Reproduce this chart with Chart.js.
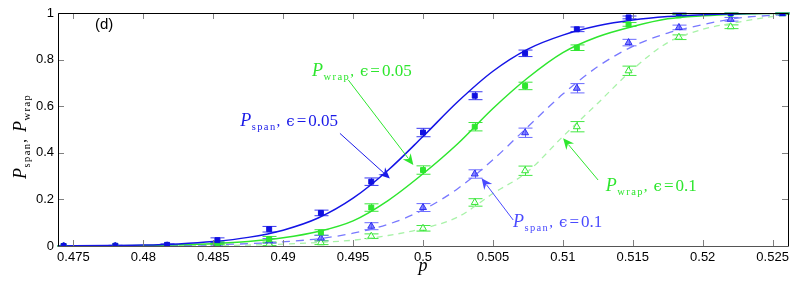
<!DOCTYPE html>
<html>
<head>
<meta charset="utf-8">
<script src="https://cdn.jsdelivr.net/npm/chart.js@4"></script>
<style>
html,body{margin:0;padding:0;background:#fff;}
#c{display:block;}
</style>
</head>
<body>
<canvas id="c" width="796" height="283" style="width:796px;height:283px"></canvas>
<script>
// ---------- data ----------
const pValues = [0.4743,0.4780,0.4817,0.4853,0.4890,0.4927,0.4963,0.5000,0.5037,0.5073,0.5110,0.5147,0.5183,0.5220,0.5257];
const spanEps005 = [0.000,0.001,0.005,0.025,0.072,0.142,0.276,0.487,0.645,0.827,0.930,0.981,0.998,1.000,1.000];
const wrapEps005 = [0.000,0.000,0.003,0.012,0.029,0.058,0.165,0.326,0.512,0.687,0.851,0.951,0.990,0.997,1.000];
const spanEps01  = [0.000,0.000,0.001,0.006,0.022,0.034,0.085,0.165,0.309,0.486,0.677,0.873,0.938,0.973,0.997];
const wrapEps01  = [0.000,0.000,0.000,0.002,0.008,0.014,0.042,0.076,0.187,0.323,0.512,0.752,0.896,0.941,0.997];
const spanEps005Err = [0.002,0.002,0.004,0.010,0.012,0.012,0.016,0.018,0.017,0.014,0.010,0.006,0.004,0.002,0.001];
const wrapEps005Err = [0.002,0.002,0.003,0.006,0.012,0.012,0.016,0.018,0.018,0.016,0.012,0.008,0.005,0.003,0.002];
const spanEps01Err  = [0.001,0.001,0.002,0.005,0.010,0.012,0.015,0.017,0.018,0.020,0.020,0.014,0.010,0.008,0.003];
const wrapEps01Err  = [0.001,0.001,0.002,0.004,0.006,0.008,0.010,0.012,0.016,0.020,0.022,0.020,0.010,0.008,0.003];

// fitted curves
const pCurve = [0.4739,0.4775,0.4800,0.4825,0.4850,0.4875,0.4900,0.4925,0.4950,0.4975,0.5000,0.5025,0.5050,0.5075,0.5100,0.5125,0.5150,0.5175,0.5200,0.5225,0.5250,0.5261];
const fitSpan005 = [0.000,0.002,0.004,0.009,0.019,0.037,0.068,0.120,0.205,0.325,0.470,0.620,0.750,0.845,0.905,0.945,0.970,0.985,0.993,0.997,0.999,0.999];
const fitWrap005 = [0.000,0.001,0.002,0.005,0.010,0.019,0.035,0.062,0.108,0.195,0.310,0.440,0.590,0.722,0.830,0.898,0.942,0.975,0.988,0.995,0.998,0.999];
const fitSpan01  = [0.000,0.000,0.001,0.002,0.005,0.010,0.018,0.031,0.055,0.093,0.155,0.247,0.370,0.512,0.652,0.770,0.857,0.914,0.950,0.978,0.990,0.993];
const fitWrap01  = [0.000,0.000,0.000,0.001,0.002,0.004,0.008,0.015,0.025,0.045,0.075,0.125,0.225,0.320,0.470,0.613,0.758,0.873,0.930,0.960,0.985,0.990];

const xTicks = [0.475,0.48,0.485,0.49,0.495,0.5,0.505,0.51,0.515,0.52,0.525];
const xTickLabels = ['0.475','0.48','0.485','0.49','0.495','0.5','0.505','0.51','0.515','0.52','0.525'];
const yTicks = [0,0.2,0.4,0.6,0.8,1];
const yTickLabels = ['0','0.2','0.4','0.6','0.8','1'];

// annotations (data coordinates)
const annotations = [
  {sub:'span', val:'0.05', color:'#1a1ae8', tx:0.48693, ty:0.515, ax0:0.49406, ay0:0.4833, ax1:0.49763, ay1:0.2901},
  {sub:'wrap', val:'0.05', color:'#2ee62e', tx:0.49207, ty:0.7296, ax0:0.49466, ay0:0.7124, ax1:0.49931, ay1:0.3476},
  {sub:'span', val:'0.1',  color:'#4a4aff', tx:0.50643, ty:0.0815, ax0:0.50645, ay0:0.1116, ax1:0.50419, ay1:0.2906},
  {sub:'wrap', val:'0.1',  color:'#2ee62e', tx:0.51307, ty:0.236,  ax0:0.51252, ay0:0.2833, ax1:0.51002, ay1:0.4622}
];

const C_BLUE = '#1414e6', C_GREEN = '#2ee62e', C_BLUE_D = '#7878ff', C_GREEN_D = '#a8f2a8';

function pts(xs, ys){ return xs.map((x,i)=>({x:x, y:ys[i]})); }

const datasets = [
  {label:'fitSpan005', data:pts(pCurve,fitSpan005), showLine:true, borderColor:C_BLUE, borderWidth:1.5, pointRadius:0, cubicInterpolationMode:'monotone', order:5},
  {label:'fitWrap005', data:pts(pCurve,fitWrap005), showLine:true, borderColor:C_GREEN, borderWidth:1.5, pointRadius:0, cubicInterpolationMode:'monotone', order:5},
  {label:'fitSpan01', data:pts(pCurve,fitSpan01), showLine:true, borderColor:C_BLUE_D, borderWidth:1.3, borderDash:[8,6], pointRadius:0, cubicInterpolationMode:'monotone', order:5},
  {label:'fitWrap01', data:pts(pCurve,fitWrap01), showLine:true, borderColor:C_GREEN_D, borderWidth:1.3, borderDash:[6,5], pointRadius:0, cubicInterpolationMode:'monotone', order:5},
  {label:'span005', data:pts(pValues,spanEps005), err:spanEps005Err, errColor:'#3a3af0', showLine:false, pointStyle:'rect', pointRadius:3.5, backgroundColor:'#1010e0', borderColor:'#1010e0', borderWidth:1, order:1},
  {label:'wrap005', data:pts(pValues,wrapEps005), err:wrapEps005Err, errColor:'#3ce63c', showLine:false, pointStyle:'rect', pointRadius:3.5, backgroundColor:'#2ee62e', borderColor:'#2ee62e', borderWidth:1, order:1},
  {label:'span01', data:pts(pValues,spanEps01), err:spanEps01Err, errColor:'#6a6aff', showLine:false, pointStyle:'triangle', pointRadius:4, backgroundColor:'rgba(90,90,255,0.75)', borderColor:'#3030f0', borderWidth:1, order:1},
  {label:'wrap01', data:pts(pValues,wrapEps01), err:wrapEps01Err, errColor:'#44e844', showLine:false, pointStyle:'triangle', pointRadius:4, backgroundColor:'rgba(255,255,255,0.9)', borderColor:'#33e633', borderWidth:1, order:1}
];

function drawArrow(ctx, x0, y0, x1, y1, color){
  ctx.save();
  ctx.strokeStyle = color; ctx.fillStyle = color; ctx.lineWidth = 1;
  const ang = Math.atan2(y1-y0, x1-x0);
  const L = 11, W = 5;
  const bx = x1 - L*Math.cos(ang), by = y1 - L*Math.sin(ang);
  ctx.beginPath(); ctx.moveTo(x0,y0); ctx.lineTo(bx+3*Math.cos(ang), by+3*Math.sin(ang)); ctx.stroke();
  const nx = -Math.sin(ang), ny = Math.cos(ang);
  ctx.beginPath();
  ctx.moveTo(x1,y1);
  ctx.lineTo(bx + nx*W, by + ny*W);
  ctx.lineTo(bx + 3.5*Math.cos(ang), by + 3.5*Math.sin(ang));
  ctx.lineTo(bx - nx*W, by - ny*W);
  ctx.closePath(); ctx.fill();
  ctx.restore();
}

function drawPLabel(ctx, x, y, sub, color){
  ctx.fillStyle = color;
  ctx.font = 'italic 18px "Liberation Serif"';
  ctx.fillText('P', x, y);
  x += ctx.measureText('P').width + 0.5;
  ctx.font = '10.5px "Liberation Serif"';
  for (const ch of sub){ ctx.fillText(ch, x, y+4); x += ctx.measureText(ch).width + 1.4; }
  return x;
}

function drawAnnotationText(ctx, x, y, a){
  ctx.save();
  ctx.textBaseline = 'alphabetic'; ctx.textAlign = 'left';
  x = drawPLabel(ctx, x, y, a.sub, a.color);
  ctx.font = '15px "Liberation Serif"';
  ctx.fillText(',', x, y); x += ctx.measureText(',').width + 6;
  ctx.font = '15px "DejaVu Serif"';
  ctx.fillText('\u03F5', x, y); x += ctx.measureText('\u03F5').width + 2;
  ctx.font = '17px "Liberation Serif"';
  ctx.fillText('=', x, y); x += ctx.measureText('=').width + 2;
  ctx.font = '17px "Liberation Serif"';
  ctx.fillText(a.val, x, y);
  ctx.restore();
}

const decor = {
  id:'decor',
  beforeDatasetsDraw(chart){
    const ctx = chart.ctx, xs = chart.scales.x, ys = chart.scales.y;
    chart.data.datasets.forEach(ds=>{
      if(!ds.err) return;
      ctx.save();
      ctx.strokeStyle = ds.errColor; ctx.lineWidth = 1;
      ds.data.forEach((pt,i)=>{
        const px = Math.round(xs.getPixelForValue(pt.x))+0.5;
        const yt = ys.getPixelForValue(Math.min(1, pt.y + ds.err[i]));
        const yb = ys.getPixelForValue(pt.y - ds.err[i]);
        ctx.beginPath();
        ctx.moveTo(px, yt); ctx.lineTo(px, yb);
        ctx.moveTo(px-7, yt); ctx.lineTo(px+7, yt);
        ctx.moveTo(px-7, yb); ctx.lineTo(px+7, yb);
        ctx.stroke();
      });
      ctx.restore();
    });
  },
  afterDraw(chart){
    const ctx = chart.ctx, xs = chart.scales.x, ys = chart.scales.y, a = chart.chartArea;
    ctx.save();
    ctx.strokeStyle = '#808080'; ctx.lineWidth = 1;
    ctx.beginPath();
    xTicks.forEach(v=>{
      const px = Math.round(xs.getPixelForValue(v))+0.5;
      ctx.moveTo(px, a.bottom); ctx.lineTo(px, a.bottom-6);
      ctx.moveTo(px, a.top); ctx.lineTo(px, a.top+6);
    });
    yTicks.forEach(v=>{
      const py = Math.round(ys.getPixelForValue(v))+0.5;
      ctx.moveTo(a.left, py); ctx.lineTo(a.left+6, py);
      ctx.moveTo(a.right, py); ctx.lineTo(a.right-6, py);
    });
    ctx.stroke();
    ctx.strokeStyle = '#000';
    ctx.beginPath();
    ctx.moveTo(Math.round(a.left)+0.5, Math.round(a.bottom)+0.5);
    ctx.lineTo(Math.round(a.left)+0.5, Math.round(a.top)+0.5);
    ctx.lineTo(Math.round(a.right)+0.5, Math.round(a.top)+0.5);
    ctx.lineTo(Math.round(a.right)+0.5, Math.round(a.bottom)+0.5);
    ctx.stroke();
    ctx.strokeStyle = '#555';
    ctx.beginPath();
    ctx.moveTo(Math.round(a.left)+0.5, Math.round(a.bottom)+0.5);
    ctx.lineTo(Math.round(a.right)+0.5, Math.round(a.bottom)+0.5);
    ctx.stroke();

    annotations.forEach(an=>{
      drawArrow(ctx, xs.getPixelForValue(an.ax0), ys.getPixelForValue(an.ay0), xs.getPixelForValue(an.ax1), ys.getPixelForValue(an.ay1), an.color);
      drawAnnotationText(ctx, xs.getPixelForValue(an.tx), ys.getPixelForValue(an.ty), an);
    });

    ctx.fillStyle = '#000';
    ctx.font = '15px "Liberation Sans"';
    ctx.textBaseline = 'middle'; ctx.textAlign = 'left';
    ctx.fillText('(d)', 95, 25);

    ctx.font = 'italic 18px "Liberation Serif"';
    ctx.textAlign = 'center'; ctx.textBaseline = 'alphabetic';
    ctx.fillText('p', xs.getPixelForValue(0.5), 271);

    ctx.save();
    ctx.translate(26, 129);
    ctx.rotate(-Math.PI/2);
    ctx.textAlign = 'left'; ctx.textBaseline = 'alphabetic';
    let x = -50;
    x = drawPLabel(ctx, x, 0, 'span', '#000');
    ctx.font = '15px "Liberation Serif"';
    ctx.fillText(',', x, 0); x += ctx.measureText(',').width + 7;
    x = drawPLabel(ctx, x, 0, 'wrap', '#000');
    ctx.restore();

    ctx.restore();
  }
};

new Chart(document.getElementById('c').getContext('2d'), {
  type:'scatter',
  data:{datasets:datasets},
  options:{
    responsive:false, animation:false, devicePixelRatio:1,
    layout:{padding:{left:0, right:8, top:13, bottom:0}},
    plugins:{legend:{display:false}, tooltip:{enabled:false}},
    scales:{
      x:{type:'linear', min:0.4739, max:0.5261,
         afterFit:s=>{s.height=37;},
         afterBuildTicks:s=>{s.ticks = xTicks.map(v=>({value:v}));},
         ticks:{callback:(v,i)=>xTickLabels[i], font:{family:'Liberation Sans', size:13}, color:'#000', padding:4, maxRotation:0, autoSkip:false},
         grid:{display:false, drawTicks:false}, border:{display:false}},
      y:{type:'linear', min:0, max:1,
         afterFit:s=>{s.width=58;},
         afterBuildTicks:s=>{s.ticks = yTicks.map(v=>({value:v}));},
         ticks:{callback:(v,i)=>yTickLabels[i], font:{family:'Liberation Sans', size:13}, color:'#000', padding:4, autoSkip:false},
         grid:{display:false, drawTicks:false}, border:{display:false}}
    }
  },
  plugins:[decor]
});
</script>
</body>
</html>
